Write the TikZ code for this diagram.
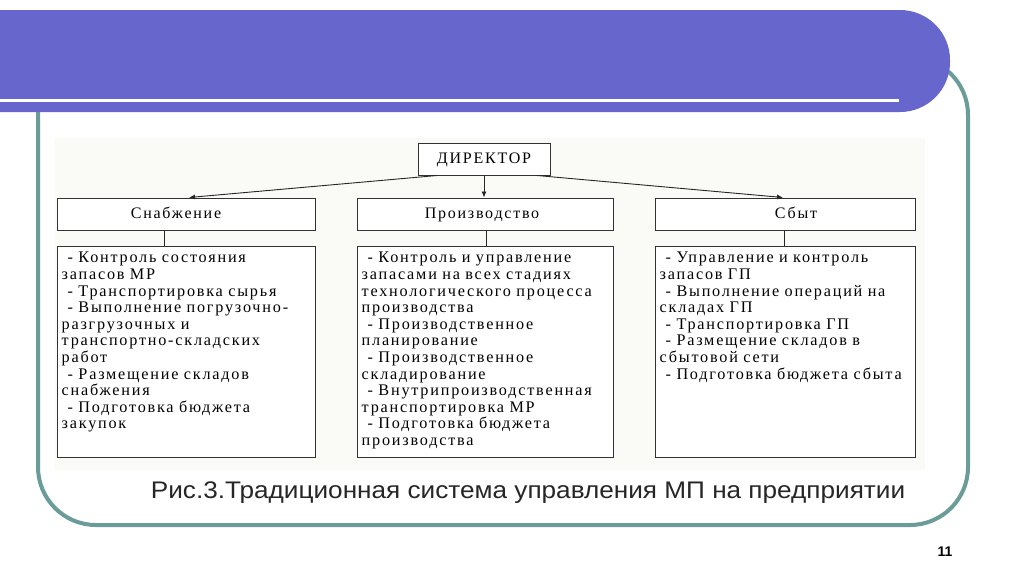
\documentclass[tikz,border=0pt]{standalone}
\usepackage{fontspec}
\setmainfont{Liberation Serif}
\newfontfamily\diagfont[LetterSpace=11]{Liberation Serif}
\newfontfamily\capfont[FakeStretch=1.09]{Liberation Sans}
\newfontfamily\numfont{Liberation Sans}
\usetikzlibrary{arrows.meta}
\definecolor{banner}{RGB}{102,102,204}
\definecolor{framec}{RGB}{106,156,154}
\definecolor{panel}{RGB}{250,251,247}
\definecolor{boxline}{RGB}{50,50,50}
\tikzset{
  headbox/.style={draw=boxline, line width=1pt, fill=white, inner sep=0pt,
    text height=11pt, text depth=3pt,
    font=\diagfont\fontsize{16}{16.6}\selectfont, text=black},
  listbox/.style={draw=boxline, line width=1pt, fill=white, inner sep=0pt},
  listtext/.style={inner sep=0pt, anchor=north west, text width=252pt, align=left,
    font=\diagfont\fontsize{16.2}{16.6}\selectfont, text=black},
  conn/.style={draw=black!85, line width=0.9pt},
  arr/.style={conn, -{Latex[length=6pt,width=5pt]}}
}
\newcommand{\itm}{\hspace*{6pt}- }
\begin{document}
\begin{tikzpicture}[x=1pt,y=-1pt]
\useasboundingbox (0,0) rectangle (1024,574);
\fill[white] (0,0) rectangle (1024,574);
% frame
\draw[framec, line width=4pt, rounded corners=58pt] (38,57) rectangle (968,525);
% banner
\fill[banner, rounded corners=50pt] (-60,10) rectangle (950,112);
\fill[white] (0,98.5) rectangle (899,101.5);
% panel
\fill[panel] (55,138) rectangle (925,470);
% nodes
\node[headbox, minimum width=132pt, minimum height=32pt] (dir) at (484,159) {ДИРЕКТОР};
\node[headbox, minimum width=258pt, minimum height=32pt] (sn) at (186,214) {\hspace*{-20pt}Снабжение};
\node[headbox, minimum width=256pt, minimum height=32pt] (pr) at (485,214) {\hspace*{-6pt}Производство};
\node[headbox, minimum width=260pt, minimum height=32pt] (sb) at (785,214) {\hspace*{22pt}Сбыт};
\node[listbox, minimum width=258pt, minimum height=211pt] (d1) at (186,351.5) {};
\node[listbox, minimum width=256pt, minimum height=211pt] (d2) at (485,351.5) {};
\node[listbox, minimum width=260pt, minimum height=211pt] (d3) at (785,351.5) {};
\node[listtext] (t1) at ([xshift=5pt,yshift=-6.5pt]d1.north west) {%
\itm Контроль состояния\\
запасов МР\\
\itm Транспортировка сырья\\
\itm Выполнение погрузочно-\\
разгрузочных и\\
транспортно-складских\\
работ\\
\itm Размещение складов\\
снабжения\\
\itm Подготовка бюджета\\
закупок};
\node[listtext] (t2) at ([xshift=5pt,yshift=-6.5pt]d2.north west) {%
\itm Контроль и управление\\
запасами на всех стадиях\\
технологического процесса\\
производства\\
\itm Производственное\\
планирование\\
\itm Производственное\\
складирование\\
\itm Внутрипроизводственная\\
транспортировка МР\\
\itm Подготовка бюджета\\
производства};
\node[listtext] (t3) at ([xshift=5pt,yshift=-6.5pt]d3.north west) {%
\itm Управление и контроль\\
запасов ГП\\
\itm Выполнение операций на\\
складах ГП\\
\itm Транспортировка ГП\\
\itm Размещение складов в\\
сбытовой сети\\
\itm Подготовка бюджета сбыта};
% connectors
\draw[arr] ([xshift=-47pt]dir.south) -- ([xshift=3pt]sn.north);
\draw[arr] (dir.south) -- (dir.south |- pr.north);
\draw[arr] ([xshift=53pt]dir.south) -- ([xshift=-2pt]sb.north);
\draw[conn] ([xshift=-22pt]sn.south) -- ([xshift=-22pt]d1.north);
\draw[conn] ([xshift=1pt]pr.south) -- ([xshift=1pt]d2.north);
\draw[conn] ([xshift=-1pt]sb.south) -- ([xshift=-1pt]d3.north);
% caption
\node[font=\capfont\fontsize{24}{28}\selectfont, text=black!85] (cap) at (528,493) {Рис.3.Традиционная система управления МП на предприятии};
\node[font=\numfont\bfseries\fontsize{14}{16}\selectfont] (num) at (945,552) {11};
\end{tikzpicture}
\end{document}
